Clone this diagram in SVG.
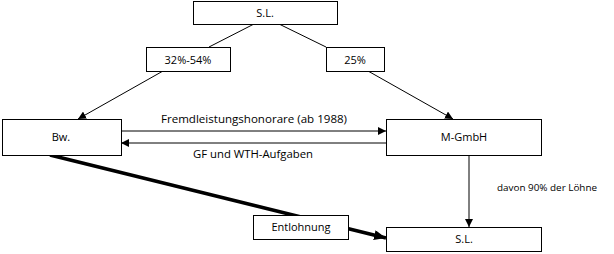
<svg xmlns="http://www.w3.org/2000/svg" width="614" height="254" viewBox="0 0 614 254">
<style>
.box{fill:#fff;stroke:#000;stroke-width:1}
.t{font-family:"Open Sans","Liberation Sans",sans-serif;font-size:11px;fill:#000;text-anchor:middle}
.s{font-family:"Open Sans","Liberation Sans",sans-serif;font-size:8.5px;fill:#000}
.ln{stroke:#000;stroke-width:1;fill:none}
.thick{stroke:#000;stroke-width:3.5;fill:none}
</style>
<defs>
<marker id="ah" markerWidth="8" markerHeight="8" refX="8" refY="4" orient="auto" markerUnits="userSpaceOnUse">
<path d="M0,0 L8,4 L0,8 Z" fill="#000"/>
</marker>
<marker id="ahb" markerWidth="12" markerHeight="10" refX="12" refY="5" orient="auto" markerUnits="userSpaceOnUse">
<path d="M0,0 L12,5 L0,10 Z" fill="#000"/>
</marker>
</defs>
<g id="connectors">
<line class="ln" x1="254" y1="24" x2="209" y2="47"/>
<line class="ln" x1="279" y1="24" x2="326" y2="47"/>
<line class="ln" x1="163" y1="71" x2="78" y2="119" marker-end="url(#ah)"/>
<line class="ln" x1="368" y1="71" x2="453" y2="119" marker-end="url(#ah)"/>
<line class="ln" x1="121" y1="131" x2="386" y2="131" marker-end="url(#ah)"/>
<line class="ln" x1="386" y1="143" x2="121" y2="143" marker-end="url(#ah)"/>
<line class="ln" x1="469" y1="155" x2="469" y2="227" marker-end="url(#ah)"/>
<line class="thick" x1="50" y1="155" x2="386" y2="238" marker-end="url(#ahb)"/>
<text class="t" x="254" y="123" textLength="186" lengthAdjust="spacingAndGlyphs">Fremdleistungshonorare (ab 1988)</text>
<text class="t" x="253" y="158" textLength="120" lengthAdjust="spacingAndGlyphs">GF und WTH-Aufgaben</text>
<text class="s" x="497" y="191" textLength="100" lengthAdjust="spacingAndGlyphs">davon 90% der Löhne</text>
</g>
<g id="sl-top"><rect class="box" x="193.5" y="1.5" width="144" height="23"/><text class="t" x="265" y="17">S.L.</text></g>
<g id="p3254"><rect class="box" x="146.5" y="47.5" width="84" height="24"/><text class="t" x="188" y="64">32%-54%</text></g>
<g id="p25"><rect class="box" x="326.5" y="47.5" width="58" height="24"/><text class="t" x="355" y="64">25%</text></g>
<g id="bw"><rect class="box" x="2.5" y="119.5" width="119" height="36"/><text class="t" x="61" y="141">Bw.</text></g>
<g id="mgmbh"><rect class="box" x="386.5" y="119.5" width="155" height="36"/><text class="t" x="464" y="141">M-GmbH</text></g>
<g id="entlohnung"><rect class="box" x="253.5" y="215.5" width="95" height="24"/><text class="t" x="301" y="231">Entlohnung</text></g>
<g id="sl-bottom"><rect class="box" x="386.5" y="227.5" width="155" height="24"/><text class="t" x="464" y="243">S.L.</text></g>
</svg>
